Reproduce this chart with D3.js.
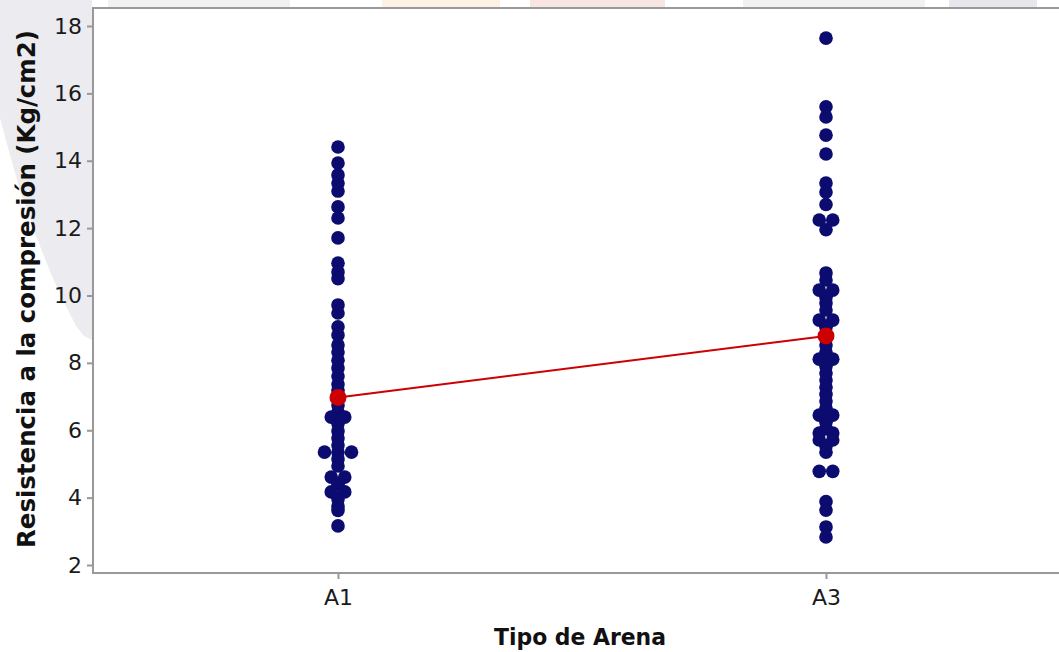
<!DOCTYPE html>
<html>
<head>
<meta charset="utf-8">
<script src="https://cdn.jsdelivr.net/npm/d3@7/dist/d3.min.js"></script>
<style>
  html, body { margin: 0; padding: 0; background: #fff; overflow: hidden; }
  svg { display: block; }
</style>
</head>
<body>
<script>
// ---- data ----
const categories = ["A1", "A3"];
const a1Values = [14.41, 13.93, 13.58, 13.34, 13.10, 12.63, 12.30, 11.71, 10.96, 10.70, 10.50,
  9.72, 9.48, 9.07, 8.83, 8.53, 8.32, 8.08, 7.85, 7.61, 7.37, 7.19, 6.98, 6.75, 6.54,
  6.39, 6.39, 6.19, 5.98, 5.77, 5.56, 5.35, 5.35, 5.35, 5.15, 4.94, 4.61, 4.61, 4.40,
  4.17, 4.17, 3.96, 3.75, 3.62, 3.16];
const a3Values = [17.64, 15.60, 15.30, 14.76, 14.20, 13.34, 13.07, 12.70, 12.24, 12.24, 11.95,
  10.67, 10.46, 10.16, 10.16, 9.95, 9.78, 9.57, 9.27, 9.27, 9.06, 8.80, 8.53, 8.32,
  8.11, 8.11, 7.90, 7.70, 7.49, 7.28, 7.07, 6.87, 6.66, 6.45, 6.45, 6.24, 6.05, 5.92,
  5.92, 5.71, 5.71, 5.53, 5.35, 4.78, 4.78, 3.88, 3.63, 3.13, 2.83];
const groupMeans = [6.97, 8.80];
const yTicks = [2, 4, 6, 8, 10, 12, 14, 16, 18];
const xTitle = "Tipo de Arena";
const yTitle = "Resistencia a la compresión (Kg/cm2)";

// ---- layout ----
const W = 1059, H = 652;
const plot = { left: 93, top: 8, right: 1075, bottom: 573 };
const navy = "#0b0b70", red = "#cc0000", axisGray = "#999999";
const FONT = "'DejaVu Sans', sans-serif";

const svg = d3.select("body").append("svg").attr("width", W).attr("height", H);

// faint background artifacts
const bg = svg.append("g");
bg.append("path")
  .attr("d", "M0,0 L92,0 L92,340 L84,336 L76,326 L66,306 L52,276 L36,236 L20,190 L8,148 L0,118 Z")
  .attr("fill", "#ececf0");
const strips = [[108, 290, "#f1f1f4"], [382, 500, "#fdf1e4"], [530, 665, "#f9e4e4"], [743, 925, "#f1f1f4"], [949, 1037, "#e6e6ec"]];
strips.forEach(s => bg.append("rect").attr("x", s[0]).attr("y", 0).attr("width", s[1] - s[0]).attr("height", 7).attr("fill", s[2]));

// plot area
svg.append("rect")
  .attr("x", plot.left).attr("y", plot.top)
  .attr("width", plot.right - plot.left).attr("height", plot.bottom - plot.top)
  .attr("fill", "#fff").attr("stroke", axisGray).attr("stroke-width", 2);

const x = d3.scalePoint().domain(categories).range([338, 826]);
const y = d3.scaleLinear().domain([2, 18]).range([565, 26]);

// y axis
const yAxis = svg.append("g").attr("transform", `translate(${plot.left},0)`)
  .call(d3.axisLeft(y).tickValues(yTicks).tickSize(6).tickPadding(5).tickFormat(d3.format("d")));
yAxis.select(".domain").remove();
yAxis.selectAll(".tick line").attr("stroke", axisGray).attr("stroke-width", 2);
yAxis.selectAll(".tick text").attr("fill", "#1a1a1a").style("font-family", FONT).style("font-size", "22px");

// x axis
const xAxis = svg.append("g").attr("transform", `translate(0,${plot.bottom})`)
  .call(d3.axisBottom(x).tickSize(6).tickPadding(10));
xAxis.select(".domain").remove();
xAxis.selectAll(".tick line").attr("stroke", axisGray).attr("stroke-width", 2);
xAxis.selectAll(".tick text").attr("fill", "#1a1a1a").style("font-family", FONT).style("font-size", "22px");

// points with tie dodging
const step = 13.5;
const series = [a1Values, a3Values];
const pts = [];
series.forEach((vals, gi) => {
  const groups = d3.group(vals, v => v.toFixed(2));
  for (const [k, arr] of groups) {
    arr.forEach((v, i) => pts.push({ cat: categories[gi], v, off: (i - (arr.length - 1) / 2) * step }));
  }
});
svg.append("g").selectAll("circle").data(pts).join("circle")
  .attr("cx", d => x(d.cat) + d.off)
  .attr("cy", d => y(d.v))
  .attr("r", 6.8)
  .attr("fill", navy);

// mean connect line
const meanData = categories.map((c, i) => ({ cat: c, v: groupMeans[i] }));
svg.append("path").datum(meanData)
  .attr("d", d3.line().x(d => x(d.cat)).y(d => y(d.v)))
  .attr("fill", "none").attr("stroke", red).attr("stroke-width", 2);
svg.append("g").selectAll("circle").data(meanData).join("circle")
  .attr("cx", d => x(d.cat)).attr("cy", d => y(d.v)).attr("r", 8.5).attr("fill", red);

// titles
svg.append("text").attr("x", 580).attr("y", 645).attr("text-anchor", "middle")
  .style("font-family", FONT).style("font-weight", "bold").style("font-size", "23px").attr("fill", "#111")
  .attr("textLength", 172).attr("lengthAdjust", "spacingAndGlyphs")
  .text(xTitle);
svg.append("text").attr("transform", "translate(35,289) rotate(-90)").attr("text-anchor", "middle")
  .style("font-family", FONT).style("font-weight", "bold").style("font-size", "25px").attr("fill", "#111")
  .attr("textLength", 518).attr("lengthAdjust", "spacingAndGlyphs")
  .text(yTitle);
</script>
</body>
</html>
